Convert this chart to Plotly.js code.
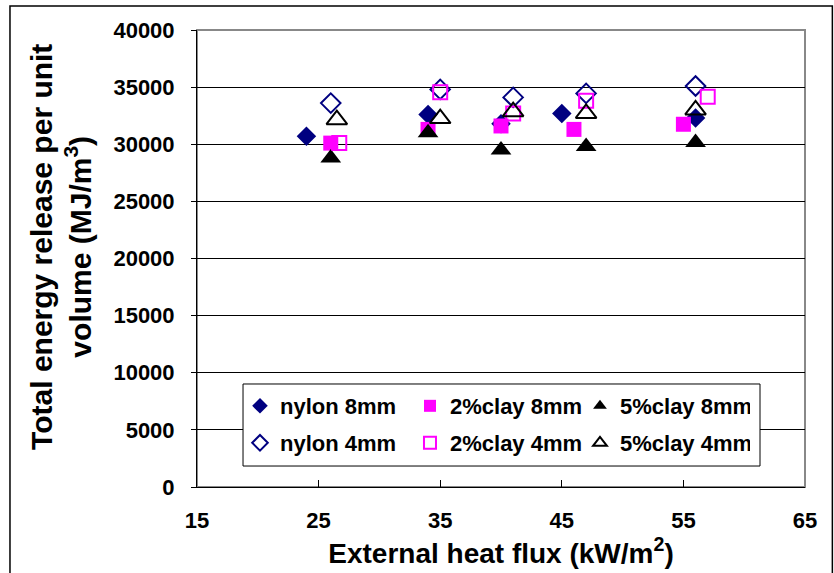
<!DOCTYPE html>
<html>
<head>
<meta charset="utf-8">
<script src="https://cdn.plot.ly/plotly-3.0.1.min.js"></script>
<style>html,body{margin:0;padding:0;background:#fff;}#chart{width:834px;height:573px;}</style>
</head>
<body>
<div id="chart"></div>
<script>
// Data
const nylon8X = [24, 34, 40, 45, 56];
const nylon8Y = [30700, 32600, 31800, 32700, 32300];
const clay2_8X = [26, 34, 40, 46, 55];
const clay2_8Y = [30100, 31300, 31600, 31300, 31750];
const clay5_8X = [26, 34, 40, 47, 56];
const clay5_8Y = [28800, 31000, 29500, 29800, 30150];
const nylon4X = [26, 35, 41, 47, 56];
const nylon4Y = [33600, 34800, 34100, 34450, 35100];
const clay2_4X = [26.7, 35, 41, 47, 57];
const clay2_4Y = [30100, 34550, 32700, 33800, 34150];
const clay5_4X = [26.5, 35, 41, 47, 56];
const clay5_4Y = [32150, 32250, 32850, 32700, 33000];

const xTicks = [15, 25, 35, 45, 55, 65];
const yTicks = [0, 5000, 10000, 15000, 20000, 25000, 30000, 35000, 40000];
const xTitle = 'External heat flux (kW/m<sup>2</sup>)';
const yTitle = 'Total energy release per unit<br>volume (MJ/m<sup>3</sup>)';

function tr(name, x, y, symbol, color, size, legendId, open) {
  return {
    type: 'scatter', mode: 'markers', name: name, x: x, y: y,
    legend: legendId,
    marker: open ? {symbol: symbol, size: size, color: color, line: {color: color, width: 2}}
                 : {symbol: symbol, size: size, color: color, line: {width: 0}},
    cliponaxis: false
  };
}

const data = [
  tr('nylon 8mm', nylon8X, nylon8Y, 'diamond', '#000080', 15, 'legend', false),
  tr('2%clay 8mm', clay2_8X, clay2_8Y, 'square', '#FF00FF', 15, 'legend', false),
  tr('5%clay 8mm', clay5_8X, clay5_8Y, 'triangle-up', '#000000', 18, 'legend', false),
  tr('nylon 4mm', nylon4X, nylon4Y, 'diamond-open', '#000080', 15, 'legend2', true),
  tr('2%clay 4mm', clay2_4X, clay2_4Y, 'square-open', '#FF00FF', 14, 'legend2', true),
  tr('5%clay 4mm', clay5_4X, clay5_4Y, 'triangle-up-open', '#000000', 18, 'legend2', true)
];

const FAM = '"Liberation Sans", Arial, sans-serif';
const legFont = {family: FAM, size: 22, color: '#000', weight: 'bold'};
function leg(y) {
  return {
    x: 0.0707, y: y, xanchor: 'left', yanchor: 'middle',
    orientation: 'h', entrywidth: 125, itemsizing: 'constant',
    borderwidth: 0, bgcolor: 'rgba(0,0,0,0)', font: legFont
  };
}

const layout = {
  width: 834, height: 573,
  margin: {l: 197, r: 29, t: 30, b: 86},
  paper_bgcolor: '#fff', plot_bgcolor: '#fff',
  font: {family: FAM, color: '#000'},
  showlegend: true,
  legend: leg(0.1772),
  legend2: leg(0.0963),
  xaxis: {
    range: [15, 65], tickvals: xTicks, ticktext: xTicks.map(String),
    showgrid: false, zeroline: false, showline: true, linecolor: '#000', linewidth: 1,
    ticks: 'inside', ticklen: 7, tickcolor: '#000', ticklabelstandoff: 14,
    tickfont: {family: FAM, size: 22, weight: 'bold', color: '#000'},
    title: {text: xTitle, standoff: 2,
            font: {family: FAM, size: 28, weight: 'bold', color: '#000'}}
  },
  yaxis: {
    range: [0, 40000], tickvals: yTicks, ticktext: yTicks.map(String),
    showgrid: true, gridcolor: '#000', gridwidth: 1, zeroline: false,
    showline: true, linecolor: '#000', linewidth: 1,
    ticks: 'outside', ticklen: 5, tickcolor: '#000', ticklabelstandoff: 12,
    tickfont: {family: FAM, size: 22, weight: 'bold', color: '#000'}
  },
  annotations: [
    {text: yTitle, xref: 'paper', yref: 'paper', x: -0.224, y: 0.525,
     xanchor: 'center', yanchor: 'middle', textangle: -90, showarrow: false,
     font: {family: FAM, size: 30, weight: 'bold', color: '#000'}}
  ],
  shapes: [
    {type: 'rect', xref: 'paper', yref: 'paper', x0: 0, x1: 1, y0: 0, y1: 1,
     line: {color: '#888', width: 2}, layer: 'below'},
    {type: 'rect', xref: 'paper', yref: 'paper', x0: -0.3076, x1: 1.045, y0: -0.19, y1: 1.0525,
     line: {color: '#000', width: 1.5}, layer: 'below'},
    // legend frame
    {type: 'rect', xref: 'paper', yref: 'paper', x0: 0.0757, x1: 0.926, y0: 0.0459, y1: 0.2254,
     line: {color: '#000', width: 1}, fillcolor: '#fff', layer: 'above'}
  ]
};

Plotly.newPlot('chart', data, layout, {displayModeBar: false, staticPlot: true});
</script>
</body>
</html>
